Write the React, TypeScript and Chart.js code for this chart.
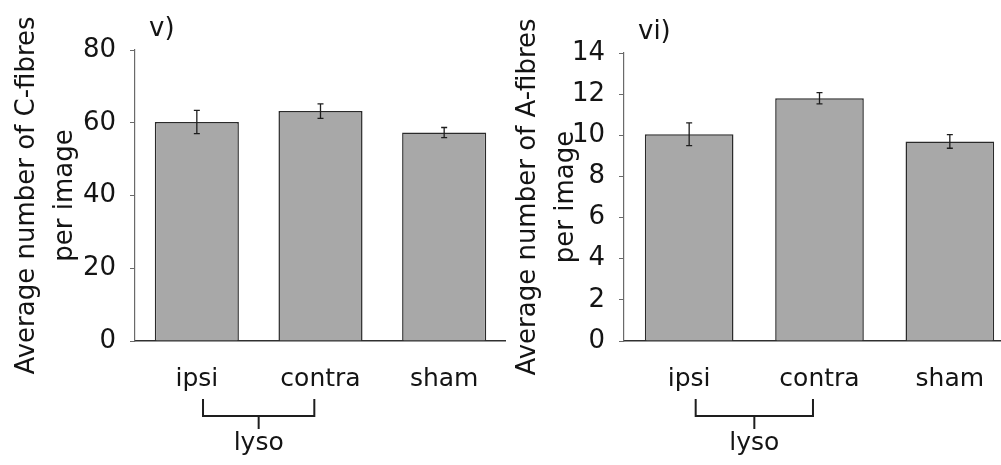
import React, { useEffect, useRef } from "react";
import { Chart, registerables } from "chart.js";

Chart.register(...registerables);

// ---- data ----
const categories = ["ipsi", "contra", "sham"];
const cFibreMeans = [60.2, 63.2, 57.3];
const cFibreErrors = [3.2, 2.0, 1.4];
const aFibreMeans = [10.05, 11.8, 9.7];
const aFibreErrors = [0.55, 0.27, 0.33];
const cFibreTicks = [0, 20, 40, 60, 80];
const aFibreTicks = [0, 2, 4, 6, 8, 10, 12, 14];
const groupLabel = "lyso";
const cPanelLabel = "v)";
const aPanelLabel = "vi)";
const cTitle = ["Average number of C-fibres", "per image"];
const aTitle = ["Average number of A-fibres", "per image"];

const FONT = "'DejaVu Sans', 'Liberation Sans', sans-serif";
const TEXT = "#141414";

type PanelProps = {
  means: number[];
  errors: number[];
  ticks: number[];
  title: string[];
  panelLabel: string;
  width: number;
  left: number;
  axisWidth: number;
  titlePad: number;
  top: number;
  tickPad: number;
};

function Panel(p: PanelProps) {
  const ref = useRef<HTMLCanvasElement | null>(null);
  useEffect(() => {
    if (!ref.current) return;
    const annot = {
      id: "annot",
      afterDatasetsDraw(chart: any) {
        const ctx = chart.ctx as CanvasRenderingContext2D;
        const xs = chart.scales.x;
        const ys = chart.scales.y;
        const meta = chart.getDatasetMeta(0);
        const area = chart.chartArea;
        ctx.save();
        // error bars
        ctx.strokeStyle = "#1e1e1e";
        ctx.lineWidth = 1.3;
        meta.data.forEach((bar: any, i: number) => {
          const m = p.means[i];
          const e = p.errors[i];
          const yt = ys.getPixelForValue(m + e);
          const yb = ys.getPixelForValue(m - e);
          ctx.beginPath();
          ctx.moveTo(bar.x, yt);
          ctx.lineTo(bar.x, yb);
          ctx.moveTo(bar.x - 3, yt);
          ctx.lineTo(bar.x + 3, yt);
          ctx.moveTo(bar.x - 3, yb);
          ctx.lineTo(bar.x + 3, yb);
          ctx.stroke();
        });
        // bracket grouping first two categories
        const x0 = xs.getPixelForValue(0);
        const x1 = xs.getPixelForValue(1);
        const inset = (x1 - x0) * 0.05;
        const a = x0 + inset;
        const b = x1 - inset;
        const mid = (a + b) / 2;
        const yTop = area.bottom + 58;
        const yBar = area.bottom + 75;
        const yStem = area.bottom + 88;
        ctx.strokeStyle = "#1e1e1e";
        ctx.lineWidth = 2;
        ctx.beginPath();
        ctx.moveTo(a, yTop);
        ctx.lineTo(a, yBar);
        ctx.lineTo(b, yBar);
        ctx.lineTo(b, yTop);
        ctx.moveTo(mid, yBar);
        ctx.lineTo(mid, yStem);
        ctx.stroke();
        ctx.fillStyle = TEXT;
        ctx.font = `25px ${FONT}`;
        ctx.textAlign = "center";
        ctx.textBaseline = "middle";
        ctx.fillText(groupLabel, mid, area.bottom + 102);
        // panel label
        ctx.textAlign = "left";
        ctx.font = `26px ${FONT}`;
        ctx.fillText(p.panelLabel, area.left + 14, area.top - 21);
        ctx.restore();
      },
    };
    const chart = new Chart(ref.current, {
      type: "bar",
      data: {
        labels: categories,
        datasets: [
          {
            data: p.means,
            backgroundColor: "#a8a8a8",
            borderColor: "#2a2a2a",
            borderWidth: 1.5,
            barPercentage: 0.68,
            categoryPercentage: 1,
          },
        ],
      },
      options: {
        responsive: false,
        animation: false,
        devicePixelRatio: 1,
        layout: { padding: { top: p.top, right: 0, bottom: 0, left: 0 } },
        plugins: {
          legend: { display: false },
          tooltip: { enabled: false },
          title: { display: false },
        },
        scales: {
          x: {
            grid: { display: false, drawTicks: false },
            border: { display: true, color: "#303030", width: 1.5 },
            ticks: {
              color: TEXT,
              font: { family: FONT, size: 25 },
              padding: p.tickPad,
              maxRotation: 0,
            },
            afterFit: (scale: any) => {
              scale.height = 124;
            },
          },
          y: {
            min: p.ticks[0],
            max: p.ticks[p.ticks.length - 1],
            afterBuildTicks: (scale: any) => {
              scale.ticks = p.ticks.map((v) => ({ value: v }));
            },
            grid: {
              drawOnChartArea: false,
              drawTicks: true,
              tickLength: 5,
              color: "#6a6a6a",
            },
            border: { display: true, color: "#6a6a6a", width: 1.2 },
            ticks: {
              color: TEXT,
              font: { family: FONT, size: 26 },
              padding: 14,
            },
            title: {
              display: true,
              text: p.title,
              color: TEXT,
              font: { family: FONT, size: 26, lineHeight: 1.46 },
              padding: { top: p.titlePad, bottom: 0 },
            },
            afterFit: (scale: any) => {
              scale.width = p.axisWidth;
            },
          },
        },
      },
      plugins: [annot],
    });
    return () => chart.destroy();
  }, []);
  return (
    <canvas
      ref={ref}
      width={p.width}
      height={465}
      style={{ position: "absolute", left: p.left, top: 0, width: p.width, height: 465 }}
    />
  );
}

export default function App() {
  return (
    <div
      style={{
        position: "absolute",
        left: 0,
        top: 0,
        width: 1001,
        height: 465,
        overflow: "hidden",
        background: "#ffffff",
      }}
    >
      <Panel
        means={cFibreMeans}
        errors={cFibreErrors}
        ticks={cFibreTicks}
        title={cTitle}
        panelLabel={cPanelLabel}
        width={506}
        left={0}
        axisWidth={135}
        titlePad={8}
        top={50}
        tickPad={23}
      />
      <Panel
        means={aFibreMeans}
        errors={aFibreErrors}
        ticks={aFibreTicks}
        title={aTitle}
        panelLabel={aPanelLabel}
        width={515}
        left={500}
        axisWidth={124}
        titlePad={9}
        top={53}
        tickPad={23}
      />
    </div>
  );
}
